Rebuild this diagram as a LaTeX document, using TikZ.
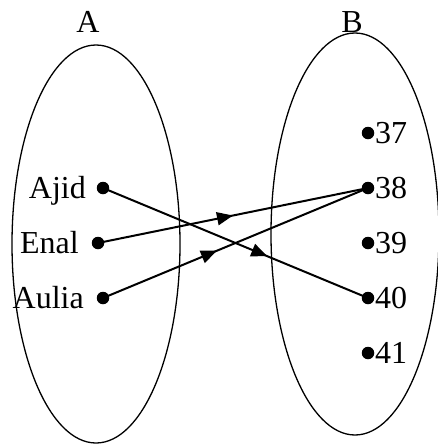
\documentclass[tikz,border=0pt]{standalone}
\usepackage{fontspec}
\setmainfont{Liberation Serif}
\usetikzlibrary{shapes.geometric,arrows.meta,decorations.markings}
\tikzset{
  dotnode/.style={circle,fill=black,inner sep=0pt,minimum size=12.5pt},
  setell/.style={draw,ellipse,line width=1.3pt,inner sep=0pt,minimum width=168pt},
  lbl/.style={inner sep=0pt,font=\fontsize{32}{35}\selectfont},
  mapline/.style={line width=2pt},
  midarrow/.style={postaction={decorate,decoration={markings,
     mark=at position #1 with {\arrow{Triangle[length=16pt,width=13pt]}}}}}
}
\begin{document}
\begin{tikzpicture}[x=1pt,y=-1pt]
\useasboundingbox (0,0) rectangle (438,445);
\node[setell,minimum height=398pt] (setA) at (96,244) {};
\node[setell,minimum height=402pt] (setB) at (355,234) {};
\node[lbl,anchor=base] (labA) at (88,32) {A};
\node[lbl,anchor=base] (labB) at (352,32) {B};
% domain
\node[dotnode] (ajid) at (103,188) {};
\node[dotnode] (enal) at (98,243) {};
\node[dotnode] (aulia) at (103,298) {};
\node[lbl,anchor=base east] (tajid) at (86,198) {Ajid};
\node[lbl,anchor=base east] (tenal) at (79,253) {Enal};
\node[lbl,anchor=base east] (taulia) at (84,308) {Aulia};
% codomain
\foreach \n/\yy in {37/133,38/188,39/243,40/298,41/353}{
  \node[dotnode] (b\n) at (368,\yy) {};
  \node[lbl,anchor=base west] (t\n) at (375,\yy+10) {\n};
}
\draw[mapline,midarrow=0.62] (ajid.center) -- (b40.center);
\draw[mapline,midarrow=0.50] (enal.center) -- (b38.center);
\draw[mapline,midarrow=0.43] (aulia.center) -- (b38.center);
\end{tikzpicture}
\end{document}
